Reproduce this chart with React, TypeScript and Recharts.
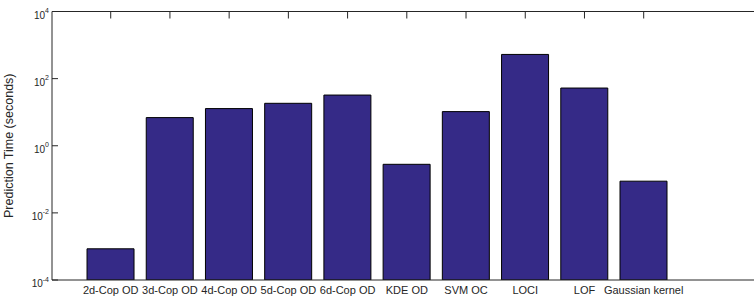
import React from "react";
import { BarChart, Bar, XAxis, YAxis, CartesianGrid } from "recharts";

const categories = [
  "2d-Cop OD",
  "3d-Cop OD",
  "4d-Cop OD",
  "5d-Cop OD",
  "6d-Cop OD",
  "KDE OD",
  "SVM OC",
  "LOCI",
  "LOF",
  "Gaussian kernel",
];
const predictionTimes = [8.5e-4, 6.9, 12.8, 18.4, 32.4, 0.28, 10.4, 526, 52.4, 0.088];
const yTicks = [1e-4, 1e-2, 1, 1e2, 1e4];
const yExponents = ["-4", "-2", "0", "2", "4"];
const frameValues = [1e4];
const yLabel = "Prediction Time (seconds)";

const data = categories.map((name, i) => ({ name, value: predictionTimes[i] }));

const FONT = "'Liberation Sans', Arial, Helvetica, sans-serif";
const AX = "#262626";
const PAD = { left: 29.1, right: 80.7 };

const renderYTick = (props: any) => {
  const { x, y, payload } = props;
  const idx = yTicks.indexOf(payload.value);
  const exp = idx >= 0 ? yExponents[idx] : "";
  return (
    <g key={`yt-${idx}`}>
      <path d={`M${x + 3},${y}h6`} stroke={AX} strokeWidth={1} fill="none" />
      <text x={x} y={y + 7} textAnchor="end" fontSize={10} fill={AX} fontFamily={FONT}>
        <tspan>10</tspan>
        <tspan dy={-5.5} fontSize={7}>{exp}</tspan>
      </text>
    </g>
  );
};

const renderTopTick = (props: any) => {
  const { x, y, index } = props;
  return (
    <g key={`tt-${index}`}>
      <path d={`M${x},${y}v7`} stroke={AX} strokeWidth={1} fill="none" />
    </g>
  );
};

const YLabel = (props: any) => {
  const vb = props.viewBox || { x: 0, y: 0, width: 0, height: 0 };
  const cx = 13;
  const cy = vb.y + vb.height / 2;
  return (
    <text
      x={cx}
      y={cy}
      transform={`rotate(-90 ${cx} ${cy})`}
      textAnchor="middle"
      fontSize={12.5}
      fill={AX}
      fontFamily={FONT}
    >
      {yLabel}
    </text>
  );
};

export default function App() {
  return (
    <div style={{ position: "fixed", left: 0, top: 0, width: 754, height: 301, background: "#fff" }}>
      <BarChart
        width={754}
        height={301}
        data={data}
        margin={{ top: 0.5, right: 0, bottom: 0, left: 0 }}
        barCategoryGap="10%"
      >
        <CartesianGrid
          xAxisId="bottom"
          vertical={false}
          horizontal={true}
          horizontalValues={frameValues}
          stroke={AX}
          strokeWidth={1}
          strokeDasharray="0"
          fill="none"
        />
        <XAxis
          dataKey="name"
          xAxisId="bottom"
          orientation="bottom"
          height={21}
          padding={PAD}
          interval={0}
          tickLine={false}
          tickSize={0}
          tickMargin={6.5}
          axisLine={{ stroke: AX, strokeWidth: 1 }}
          tick={{ fontSize: 11, fill: AX, fontFamily: FONT }}
        />
        <XAxis
          dataKey="name"
          xAxisId="top"
          orientation="top"
          height={11}
          padding={PAD}
          interval={0}
          tickLine={false}
          tickSize={0}
          tickMargin={0}
          axisLine={{ stroke: AX, strokeWidth: 1 }}
          tick={renderTopTick}
        />
        <YAxis
          scale="log"
          domain={[1e-4, 1e4]}
          ticks={yTicks}
          allowDataOverflow
          width={52}
          tickLine={false}
          tickSize={0}
          tickMargin={3}
          axisLine={{ stroke: AX, strokeWidth: 1 }}
          tick={renderYTick}
          label={<YLabel />}
        />
        <Bar
          dataKey="value"
          xAxisId="bottom"
          fill="#352A87"
          stroke="#000"
          strokeWidth={1}
          isAnimationActive={false}
        />
      </BarChart>
    </div>
  );
}
